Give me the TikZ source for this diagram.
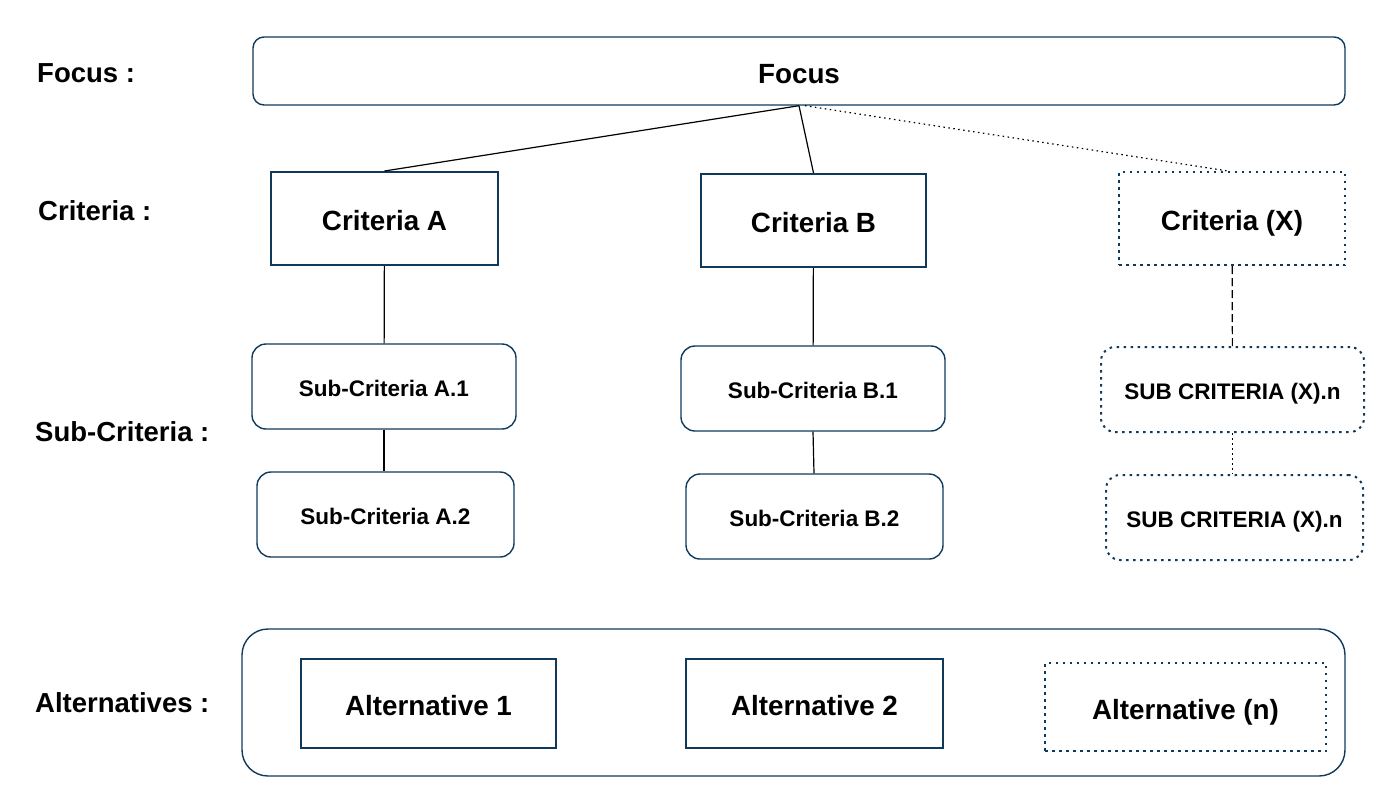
\documentclass[tikz,border=0pt]{standalone}
\usepackage{fontspec}
\setmainfont{Liberation Sans}
\usetikzlibrary{positioning}
\definecolor{navy}{RGB}{16,58,92}

\begin{document}
\begin{tikzpicture}[
    x=1pt, y=-1pt,
    box/.style={
        draw=navy, line width=2pt,
        font=\fontsize{27.8}{30}\selectfont\bfseries,
        text height=27.5pt, text depth=2.8pt,
        text centered, align=center, inner sep=0pt
    },
    subbox/.style={
        box, rounded corners=14pt, line width=1.4pt,
        font=\fontsize{22.5}{25}\selectfont\bfseries,
        text height=22.5pt, text depth=2.2pt
    },
    dotbox/.style={line width=2pt, dash pattern=on 2.5pt off 4.5pt},
    lvl/.style={font=\fontsize{27.5}{30}\selectfont\bfseries, anchor=west, inner sep=0pt},
    link/.style={draw=black, line width=1.2pt},
]
\useasboundingbox (0,0) rectangle (1388,807);

% Level labels (left column)
\node[lvl] (lfocus) at (37, 73) {Focus :};
\node[lvl] (lcrit) at (38, 211) {Criteria :};
\node[lvl] (lsub) at (35, 432) {Sub-Criteria :};
\node[lvl] (lalt) at (35, 703) {Alternatives :};

% Focus
\node[box, rounded corners=11pt, line width=1.4pt, minimum width=1092pt, minimum height=68pt] (focus) at (799, 71) {Focus};

% Criteria row
\node[box, minimum width=227pt, minimum height=93pt] (critA) at (384.5, 218.5) {Criteria A};
\node[box, minimum width=225pt, minimum height=93pt] (critB) at (813.5, 220.5) {Criteria B};
\node[box, dotbox, minimum width=226pt, minimum height=93pt] (critX) at (1232, 218.5) {Criteria (X)};

% Sub-criteria
\node[subbox, minimum width=264pt, minimum height=85pt] (subA1) at (384, 386.5) {Sub-Criteria A.1};
\node[subbox, minimum width=257pt, minimum height=85pt] (subA2) at (385.5, 514.5) {Sub-Criteria A.2};
\node[subbox, minimum width=264pt, minimum height=85pt] (subB1) at (813, 388.5) {Sub-Criteria B.1};
\node[subbox, minimum width=257pt, minimum height=85pt] (subB2) at (814.5, 516.5) {Sub-Criteria B.2};
\node[subbox, dotbox, minimum width=263pt, minimum height=85pt] (subX1) at (1232.5, 389.5) {SUB CRITERIA (X).n};
\node[subbox, dotbox, minimum width=257pt, minimum height=85pt] (subX2) at (1234.5, 517.5) {SUB CRITERIA (X).n};

% Alternatives
\node[box, rounded corners=26pt, line width=1.4pt, minimum width=1103pt, minimum height=147pt] (alts) at (793.5, 702.5) {};
\node[box, minimum width=255pt, minimum height=89pt] (alt1) at (428.5, 703.5) {Alternative 1};
\node[box, minimum width=257pt, minimum height=89pt] (alt2) at (814.5, 703.5) {Alternative 2};
\node[box, dotbox, minimum width=281pt, minimum height=88pt] (altN) at (1185.5, 707) {Alternative (n)};

% Connectors
\draw[link] (focus.south) -- (critA.north);
\draw[link] (focus.south) -- (critB.north);
\draw[link, dash pattern=on 1.5pt off 3.5pt] ([xshift=6pt]focus.south) -- ([xshift=-4pt]critX.north);
\draw[link] (critA) -- (subA1);
\draw[link] (subA1.south) -- (subA1.south |- subA2.north);
\draw[link] (critB) -- (subB1);
\draw[link] (subB1.south) -- ([xshift=1pt]subB1.south |- subB2.north);
\draw[link, dash pattern=on 8pt off 4pt] (critX) -- (subX1);
\draw[link, dash pattern=on 2pt off 3pt] (subX1.south) -- (subX1.south |- subX2.north);

\end{tikzpicture}
\end{document}
